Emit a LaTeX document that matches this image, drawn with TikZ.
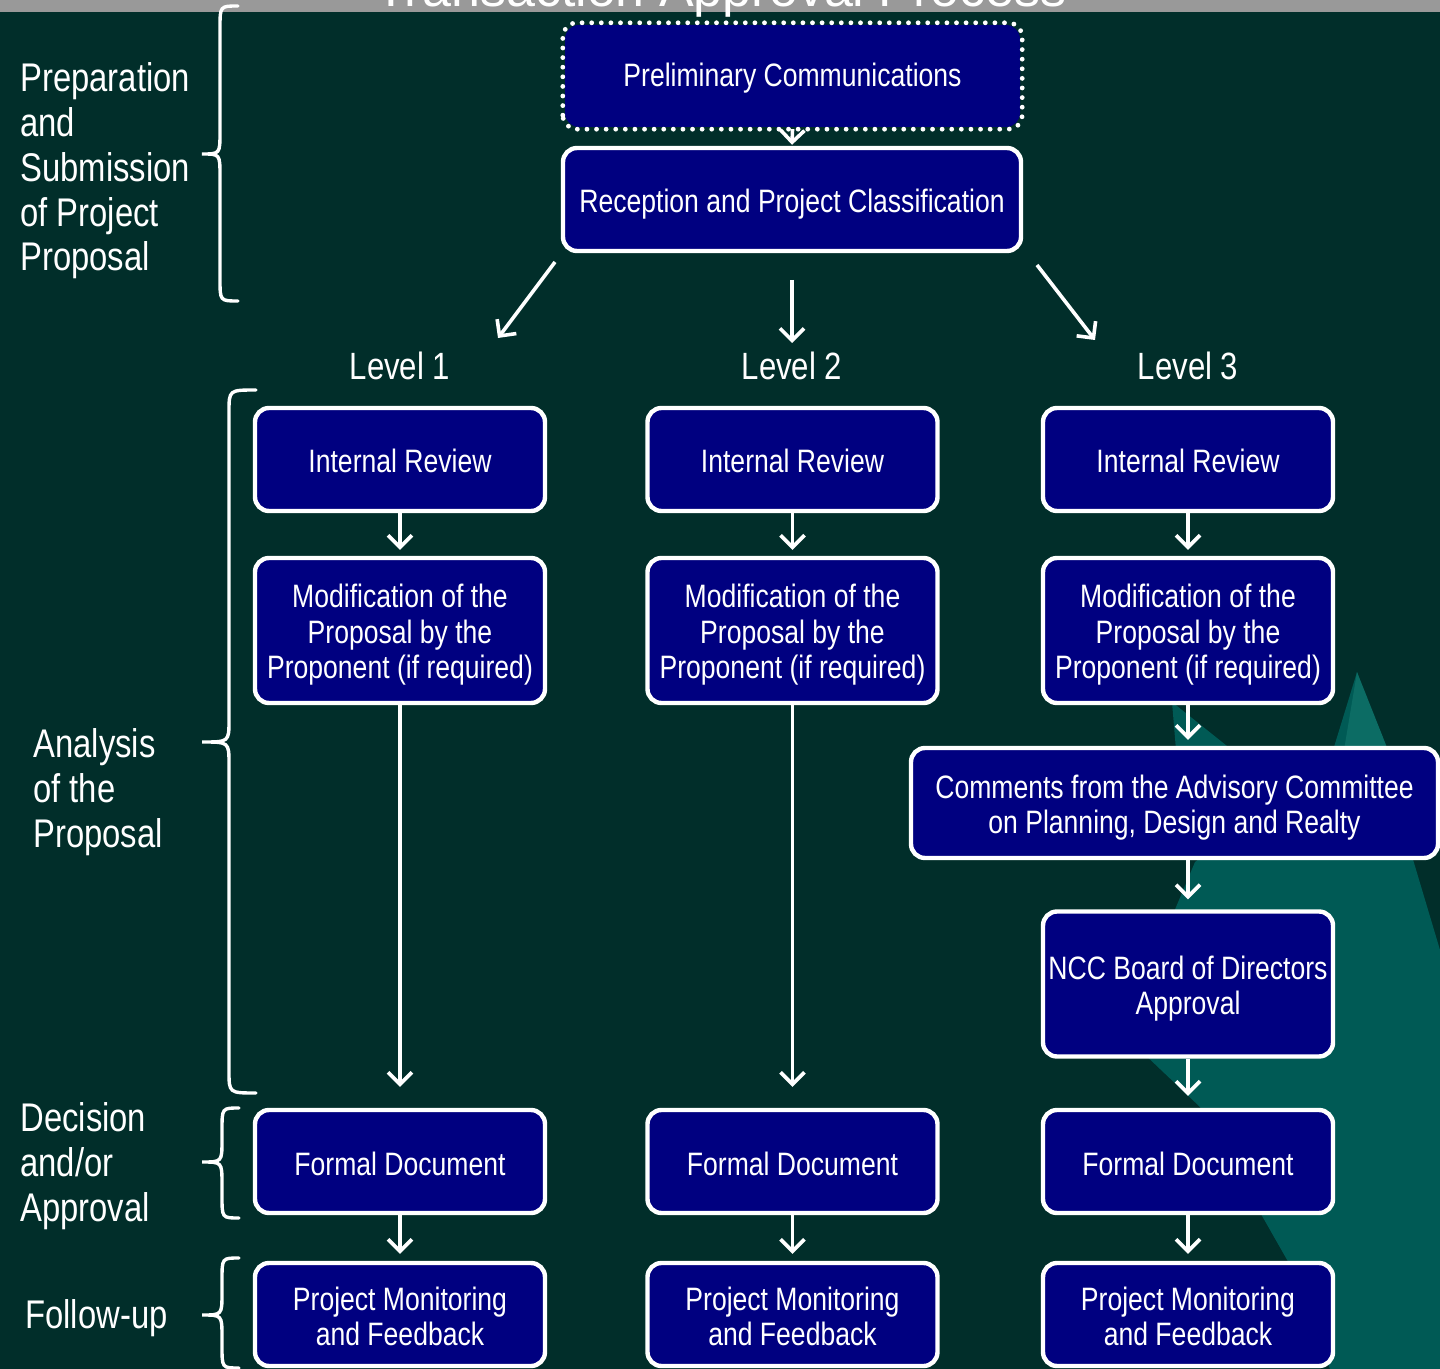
\documentclass[tikz,border=0pt]{standalone}
\usepackage{fontspec}
\setmainfont[FakeStretch=0.82]{Liberation Sans}
\newfontfamily\titlefont{Liberation Sans}
\usetikzlibrary{arrows.meta}
\definecolor{bgc}{RGB}{1,46,42}
\definecolor{tealc}{RGB}{0,90,85}
\definecolor{tealL}{RGB}{12,108,100}
\definecolor{navyc}{RGB}{0,0,128}
\definecolor{stripc}{RGB}{153,153,153}
\newcommand\st[1]{\rule{0pt}{#1pt}}
\tikzset{
  box/.style={draw=white, line width=2.2pt, fill=navyc, rounded corners=7pt, text=white,
    align=center, inner sep=0pt, font={\fontsize{16.2pt}{17.75pt}\selectfont}},
  colbox/.style={box, minimum width=145pt},
  shortbox/.style={minimum height=51.5pt},
  tallbox/.style={minimum height=72.5pt},
  dotbox/.style={box, draw=none},
  arr/.style={draw=white, line width=1.8pt, -{Straight Barb[length=6pt,width=12pt,line width=1.8pt]}},
  lvl/.style={text=white, inner sep=0pt, font={\fontsize{19pt}{21pt}\selectfont}},
  side/.style={text=white, inner sep=0pt, anchor=west, align=left, font={\fontsize{20pt}{22.35pt}\selectfont}},
  brace/.style={draw=white, line width=1.7pt, line cap=round}
}
\newcommand\mybrace[6]{% xt xv xp y1 ym y2
  \draw[brace] (#1,#4) .. controls (#2,#4) and (#2,#4) .. (#2,#4+22)
    -- (#2,#5-22) .. controls (#2,#5) and (#2,#5) .. (#3,#5)
    .. controls (#2,#5) and (#2,#5) .. (#2,#5+22)
    -- (#2,#6-22) .. controls (#2,#6) and (#2,#6) .. (#1,#6);}
\begin{document}
\begin{tikzpicture}[x=0.5pt,y=-0.5pt]
\useasboundingbox (0,0) rectangle (1440,1369);
\clip (0,0) rectangle (1440,1369);
\fill[bgc] (0,0) rectangle (1440,1369);
% background shapes
\fill[tealc] (1357,672) -- (1440,950) -- (1440,1369) -- (1330,1369) -- (1290,1265)
  -- (1200,1107) -- (1140,1050) -- (1160,945) -- (1195,862) -- (1330,760) -- cycle;
\fill[tealc] (1172,702) -- (1232,750) -- (1176,750) -- cycle;
\fill[tealL] (1357,672) -- (1388,750) -- (1344,750) -- cycle;
% title strip
\fill[stripc] (0,0) rectangle (1440,12);
\node[text=white, inner sep=0pt, anchor=base, font={\titlefont\fontsize{26pt}{28pt}\selectfont}] (title) at (721,7) {Transaction Approval Process};

% top boxes
\node[dotbox, minimum width=227.5pt, minimum height=51pt] (prelim) at (792.5,76) {\st{13.8}Preliminary Communications};
\draw[white, line width=2.4pt, line cap=round, dash pattern=on 0pt off 4.8pt, rounded corners=7pt]
  (prelim.south west) rectangle (prelim.north east);
\node[box, minimum width=229pt, minimum height=51.5pt] (recep) at (792,199.5) {\st{16.3}Reception and Project Classification};

% level labels
\node[lvl] (lvl1) at (400,366) {Level 1};
\node[lvl] (lvl2) at (792,366) {Level 2};
\node[lvl] (lvl3) at (1188,366) {Level 3};

% columns
\foreach \c/\x in {1/400,2/792.5,3/1188}{
  \node[colbox, shortbox] (ir\c) at (\x,459.5) {\st{12.8}Internal Review};
  \node[colbox, tallbox] (mod\c) at (\x,630.5) {\st{16.3}Modification of the\\Proposal by the\\Proponent (if required)};
  \node[colbox, shortbox] (fd\c) at (\x,1161.5) {\st{13.8}Formal Document};
  \node[colbox, shortbox] (pm\c) at (\x,1314.5) {\st{13.8}Project Monitoring\\and Feedback};
}
\node[box, minimum width=263.5pt, minimum height=55pt] (comm) at (1174.5,803) {\st{16.3}Comments from the Advisory Committee\\on Planning, Design and Realty};
\node[colbox, tallbox] (ncc) at (1188,984) {\st{16.3}NCC Board of Directors\\Approval};

% arrows
\draw[arr, shorten >=0.5pt] (prelim.south) -- (recep.north);
\coordinate (a1s) at (555,262); \coordinate (a1e) at (498,338);
\coordinate (a2s) at (792,280); \coordinate (a2e) at (792,343);
\coordinate (a3s) at (1037,265); \coordinate (a3e) at (1095,340);
\draw[arr] (a1s) -- (a1e);
\draw[arr] (a2s) -- (a2e);
\draw[arr] (a3s) -- (a3e);
\foreach \c in {1,2,3}{
  \draw[arr, shorten >=3pt] (ir\c.south) -- (mod\c.north);
  \draw[arr, shorten >=3.5pt] (fd\c.south) -- (pm\c.north);
}
\draw[arr, shorten >=10.5pt] (mod1.south) -- (fd1.north);
\draw[arr, shorten >=10.5pt] (mod2.south) -- (fd2.north);
\draw[arr, shorten >=3pt] (mod3.south) -- (mod3.south |- comm.north);
\draw[arr, shorten >=5pt] (ncc.north |- comm.south) -- (ncc.north);
\draw[arr, shorten >=6pt] (ncc.south) -- (fd3.north);

% braces
\mybrace{238}{220}{202}{6}{154}{301}
\mybrace{256}{229}{202}{390}{742}{1093}
\mybrace{239}{222}{202}{1108}{1162}{1218}
\mybrace{239}{222}{202}{1258}{1315}{1368}

% side labels
\node[side] (s1) at (20,171) {Preparation\\and\\Submission\\of Project\\Proposal};
\node[side] (s2) at (33,792) {Analysis\\of the\\Proposal};
\node[side] (s3) at (20,1166) {Decision\\and/or\\Approval};
\node[side] (s4) at (25,1318) {Follow-up};
\end{tikzpicture}
\end{document}
